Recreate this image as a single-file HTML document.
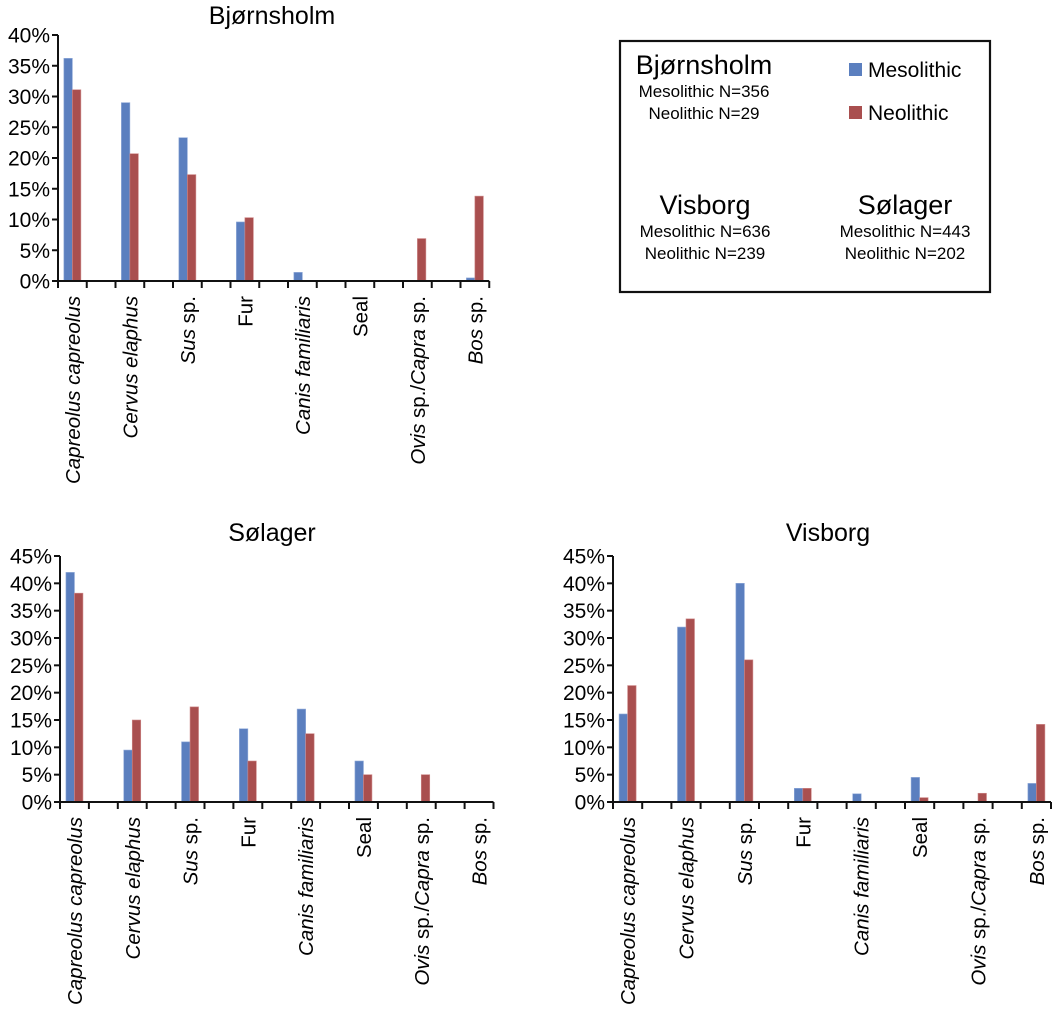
<!DOCTYPE html>
<html><head><meta charset="utf-8"><style>
html,body{margin:0;padding:0;background:#fff}
svg{display:block;font-family:"Liberation Sans",sans-serif}
</style></head><body>
<svg id="root" width="1063" height="1010" viewBox="0 0 1063 1010" xmlns="http://www.w3.org/2000/svg">
<g>
<rect x="620" y="41" width="370" height="251" fill="none" stroke="#111" stroke-width="2.2"/>
<text x="704" y="74" font-size="27" text-anchor="middle">Bjørnsholm</text>
<text x="704" y="97" font-size="17" text-anchor="middle">Mesolithic N=356</text>
<text x="704" y="119" font-size="17" text-anchor="middle">Neolithic N=29</text>
<text x="705" y="214" font-size="27" text-anchor="middle">Visborg</text>
<text x="705" y="237" font-size="17" text-anchor="middle">Mesolithic N=636</text>
<text x="705" y="259" font-size="17" text-anchor="middle">Neolithic N=239</text>
<text x="905" y="214" font-size="27" text-anchor="middle">Sølager</text>
<text x="905" y="237" font-size="17" text-anchor="middle">Mesolithic N=443</text>
<text x="905" y="259" font-size="17" text-anchor="middle">Neolithic N=202</text>
<rect x="849" y="63" width="13" height="13" fill="#5b7fbf"/>
<text x="868" y="77" font-size="21">Mesolithic</text>
<rect x="849" y="106" width="13" height="13" fill="#a94f4f"/>
<text x="868" y="120" font-size="21">Neolithic</text>
</g>
</svg>
<script>
const categories = ["Capreolus capreolus","Cervus elaphus","Sus sp.","Fur","Canis familiaris","Seal","Ovis sp./Capra sp.","Bos sp."];
const bjornMeso = [36.2, 29.0, 23.3, 9.6, 1.4, 0, 0, 0.5];
const bjornNeo  = [31.1, 20.7, 17.3, 10.3, 0, 0, 6.9, 13.8];
const bjornTicks = [0,5,10,15,20,25,30,35,40];
const solMeso = [42.0, 9.5, 11.0, 13.4, 17.0, 7.5, 0, 0];
const solNeo  = [38.2, 15.0, 17.4, 7.5, 12.5, 5.0, 5.0, 0];
const solTicks = [0,5,10,15,20,25,30,35,40,45];
const visMeso = [16.1, 32.0, 40.0, 2.5, 1.5, 4.5, 0, 3.4];
const visNeo  = [21.3, 33.5, 26.0, 2.5, 0, 0.8, 1.6, 14.2];
const visTicks = [0,5,10,15,20,25,30,35,40,45];

const NS = "http://www.w3.org/2000/svg";
const root = document.getElementById("root");
function mk(tag, attrs, parent){
  const e = document.createElementNS(NS, tag);
  for (const k in attrs) e.setAttribute(k, attrs[k]);
  parent.appendChild(e);
  return e;
}
function labelParts(c){
  if (c==="Capreolus capreolus"||c==="Cervus elaphus"||c==="Canis familiaris") return [[c,true]];
  if (c==="Sus sp.") return [["Sus",true],[" sp.",false]];
  if (c==="Bos sp.") return [["Bos",true],[" sp.",false]];
  if (c==="Ovis sp./Capra sp.") return [["Ovis",true],[" sp./",false],["Capra",true],[" sp.",false]];
  return [[c,false]];
}
function drawChart(o){
  const g = mk("g", {}, root);
  
  
  const maxV = o.ticks[o.ticks.length-1];
  const y = v => o.y0 - (v/maxV)*(o.y0-o.yTop);
  const slot = o.step;
  const cx = i => o.x0 + slot/2 + i*2*slot;
  const xEnd = o.x0 + slot*15;
  const t = mk("text", {x:o.titleX, y:o.titleY, "font-size":25, "text-anchor":"middle"}, g);
  t.textContent = o.title;
  
  
  const ya = mk("line", {x1:o.x0, y1:o.yTop, x2:o.x0, y2:o.y0, stroke:"#111", "stroke-width":2}, g);
  
  
  o.ticks.forEach(v=>{
    mk("line", {x1:o.x0-6, y1:y(v), x2:o.x0, y2:y(v), stroke:"#111", "stroke-width":2}, g);
    const tl = mk("text", {x:o.x0-8, y:y(v)+7.5, "font-size":21, "text-anchor":"end"}, g);
    tl.textContent = v + "%";
    
    
  });
  categories.forEach((c,i)=>{
    const bw = 8.5;
    const m = o.meso[i], n = o.neo[i];
    if (m>0){
      const r = mk("rect", {x:cx(i)-bw, y:y(m), width:bw, height:o.y0-y(m), fill:"#5b7fbf", stroke:"#8fa9d8", "stroke-width":0.6}, g);
      
      
    }
    if (n>0){
      const r = mk("rect", {x:cx(i), y:y(n), width:bw, height:o.y0-y(n), fill:"#a94f4f", stroke:"#cf8a8a", "stroke-width":0.6}, g);
      
      
    }
  });
  const xa = mk("line", {x1:o.x0-6, y1:o.y0, x2:xEnd, y2:o.y0, stroke:"#111", "stroke-width":2}, g);
  
  
  for (let k=0;k<=15;k++){
    mk("line", {x1:o.x0+k*slot, y1:o.y0, x2:o.x0+k*slot, y2:o.y0+7, stroke:"#111", "stroke-width":2}, g);
  }
  categories.forEach((c,i)=>{
    const lx = cx(i)+7.5, ly = o.y0+15;
    const tx = mk("text", {x:0, y:0, "font-size":20.5, "text-anchor":"end", transform:`translate(${lx},${ly}) rotate(-90)`}, g);
    
    
    labelParts(c).forEach(p=>{
      const s = mk("tspan", {"font-style": p[1]?"italic":"normal"}, tx);
      s.textContent = p[0];
    });
  });
}
drawChart({name:"chart-bjornsholm", title:"Bjørnsholm", titleX:272, titleY:24, x0:58, y0:281, yTop:35, step:28.75, ticks:bjornTicks, meso:bjornMeso, neo:bjornNeo});
drawChart({name:"chart-solager", title:"Sølager", titleX:272, titleY:541, x0:60, y0:802, yTop:556, step:28.9, ticks:solTicks, meso:solMeso, neo:solNeo});
drawChart({name:"chart-visborg", title:"Visborg", titleX:828, titleY:541, x0:613, y0:802, yTop:556, step:29.2, ticks:visTicks, meso:visMeso, neo:visNeo});
</script>
</body></html>
